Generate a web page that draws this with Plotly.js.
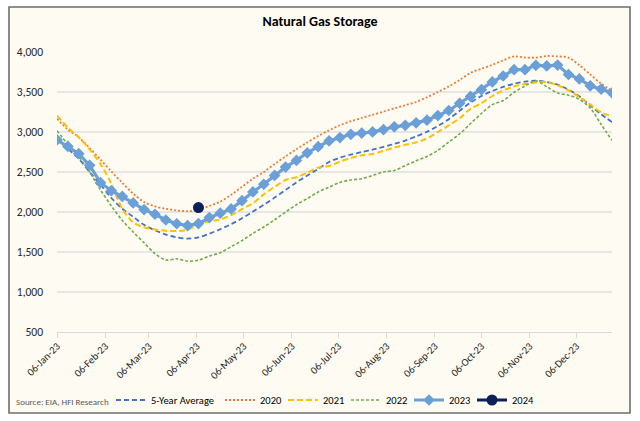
<!DOCTYPE html>
<html><head><meta charset="utf-8">
<script src="https://cdn.plot.ly/plotly-3.0.1.min.js"></script>
<style>html,body{margin:0;padding:0;background:#fff;}#chart{width:640px;height:421px;}</style>
</head><body><div id="chart"></div>
<script>
const weekDates = ['2023-01-06','2023-01-13','2023-01-20','2023-01-27','2023-02-03','2023-02-10','2023-02-17','2023-02-24',
 '2023-03-03','2023-03-10','2023-03-17','2023-03-24','2023-03-31','2023-04-07','2023-04-14','2023-04-21','2023-04-28',
 '2023-05-05','2023-05-12','2023-05-19','2023-05-26','2023-06-02','2023-06-09','2023-06-16','2023-06-23','2023-06-30',
 '2023-07-07','2023-07-14','2023-07-21','2023-07-28','2023-08-04','2023-08-11','2023-08-18','2023-08-25',
 '2023-09-01','2023-09-08','2023-09-15','2023-09-22','2023-09-29','2023-10-06','2023-10-13','2023-10-20','2023-10-27',
 '2023-11-03','2023-11-10','2023-11-17','2023-11-24','2023-12-01','2023-12-08','2023-12-15','2023-12-22','2023-12-29'];

const fiveYearAvg = [2920,2790,2665,2500,2340,2175,2040,1940,1840,1772,1718,1684,1668,1682,1728,1785,1848,1922,2005,2090,
 2180,2275,2370,2455,2540,2625,2680,2717,2750,2780,2813,2852,2893,2945,3003,3076,3160,3265,3367,3450,
 3513,3563,3604,3629,3642,3625,3592,3529,3446,3333,3221,3125];

const y2020 = [3165,3030,2935,2800,2655,2505,2365,2230,2125,2070,2040,2020,2010,2030,2075,2130,2215,2315,2415,2500,
 2600,2695,2785,2870,2950,3020,3085,3135,3175,3215,3255,3295,3335,3375,3435,3500,3570,3650,3740,3790,
 3840,3895,3945,3930,3930,3950,3945,3930,3835,3720,3605,3515];

const y2021 = [3205,3055,2935,2780,2600,2350,2040,1870,1808,1782,1765,1763,1780,1845,1885,1905,1960,2035,2110,2220,
 2315,2400,2435,2490,2555,2575,2630,2675,2710,2725,2765,2805,2840,2870,2920,2999,3082,3172,3290,3360,
 3450,3520,3570,3600,3620,3622,3585,3520,3435,3345,3245,3198];

const y2022 = [3016,2845,2690,2500,2275,2075,1895,1750,1615,1480,1400,1415,1385,1397,1450,1490,1567,1643,1732,1812,
 1902,1999,2091,2169,2251,2311,2369,2401,2416,2457,2501,2519,2579,2640,2694,2771,2874,2977,3106,3231,
 3342,3394,3495,3575,3640,3567,3487,3460,3408,3300,3095,2895];

const y2023 = [2902,2820,2729,2583,2366,2266,2195,2114,2030,1972,1900,1853,1830,1855,1930,1985,2039,2141,2251,2347,
 2457,2561,2645,2740,2816,2888,2930,2971,2987,3001,3030,3065,3083,3115,3148,3205,3269,3359,3445,3529,
 3626,3700,3779,3779,3833,3826,3836,3719,3664,3577,3537,3490];

const dates2024 = ['2023-04-07'];
const y2024 = [2055];

const monthTicks = ['2023-01-06','2023-02-06','2023-03-06','2023-04-06','2023-05-06','2023-06-06',
 '2023-07-06','2023-08-06','2023-09-06','2023-10-06','2023-11-06','2023-12-06'];
const yTicks = [500,1000,1500,2000,2500,3000,3500,4000];

const FONT = 'Carlito, Lato, sans-serif';
const L = 57, R = 612, T = 52, B = 332, W = 640, H = 421;
const px = v => (v - L) / (R - L);
const py = v => (B - v) / (B - T);

const traces = [
  {name:'5-Year Average', x:weekDates, y:fiveYearAvg, mode:'lines', hoverinfo:'skip', legendwidth: 64,
   line:{color:'#4472C4', width:1.8, dash:'5px,3px', shape:'spline', smoothing:0.9}},
  {name:'2020', x:weekDates, y:y2020, mode:'lines', hoverinfo:'skip', legendwidth: 18,
   line:{color:'#ED7D31', width:1.8, dash:'2px,2px', shape:'spline', smoothing:0.9}},
  {name:'2021', x:weekDates, y:y2021, mode:'lines', hoverinfo:'skip', legendwidth: 18,
   line:{color:'#FFC000', width:2, dash:'6px,3px', shape:'spline', smoothing:0.9}},
  {name:'2022', x:weekDates, y:y2022, mode:'lines', hoverinfo:'skip', legendwidth: 18,
   line:{color:'#70AD47', width:1.6, dash:'3px,2px', shape:'spline', smoothing:0.9}},
  {name:'2023', x:weekDates, y:y2023, mode:'lines+markers', hoverinfo:'skip', legendwidth: 18,
   line:{color:'#6A9FD8', width:3.2}, marker:{symbol:'diamond', size:9, color:'#6A9FD8'}},
  {name:'2024', x:dates2024, y:y2024, mode:'lines+markers', hoverinfo:'skip', legendwidth: 18,
   line:{color:'#0B2157', width:3}, marker:{symbol:'circle', size:11, color:'#0B2157'}}
];

const layout = {
  width: W, height: H,
  margin: {l: L, r: W - R, t: T, b: H - B, autoexpand: false},
  paper_bgcolor: '#FFFFFF',
  plot_bgcolor: 'rgba(0,0,0,0)',
  font: {family: FONT, size: 11, color: '#262626'},
  title: {text: '<b>Natural Gas Storage</b>', x: 0.5, xref: 'container', y: 1 - 21/H, yref: 'container',
          yanchor: 'middle', font: {family: FONT, size: 14, color: '#000000'}},
  showlegend: true,
  legend: {orientation: 'h', x: px(111), xanchor: 'left', y: py(400), yanchor: 'middle',
           font: {family: FONT, size: 10.5, color: '#000000'}, bgcolor: 'rgba(0,0,0,0)', traceorder: 'normal'},
  xaxis: {type: 'date', range: ['2023-01-06', '2023-12-29'], tickvals: monthTicks, tickformat: '%d-%b-%y',
          tickangle: -45, showgrid: false, showline: true, linecolor: '#D9D9D9', linewidth: 1,
          ticks: 'outside', ticklen: 5, tickcolor: '#D9D9D9', ticklabelstandoff: -2,
          tickfont: {family: FONT, size: 10.5, color: '#262626'},
          zeroline: false, fixedrange: true},
  yaxis: {range: [500, 4000], tickvals: yTicks, tickformat: ',d', showgrid: true, gridcolor: '#E6E6E6', gridwidth: 1.3,
          zeroline: false, showline: false, ticks: '', ticklabelstandoff: 13,
          tickfont: {family: FONT, size: 11.5, color: '#262626'}, fixedrange: true},
  shapes: [
    {type: 'rect', xref: 'paper', yref: 'paper', x0: px(9), x1: px(630), y0: py(413), y1: py(7),
     fillcolor: '#FEFBF2', line: {color: '#6E6E6E', width: 1.6}, layer: 'below'}
  ],
  annotations: [
    {text: 'Source: EIA, HFI Research', xref: 'paper', yref: 'paper', x: px(14), y: py(401), xanchor: 'left',
     yanchor: 'middle', showarrow: false, font: {family: FONT, size: 9, color: '#595959'}}
  ]
};

Plotly.newPlot('chart', traces, layout, {staticPlot: true, displayModeBar: false});
</script>
</body></html>
